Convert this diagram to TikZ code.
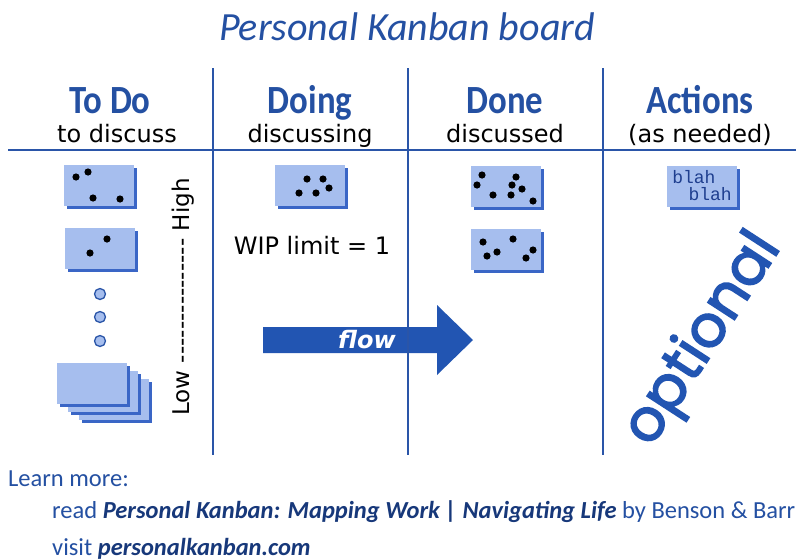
\documentclass[tikz,border=0pt]{standalone}
\usepackage{fontspec}
\setmainfont{DejaVu Sans}
\newfontfamily\headfont[FakeStretch=0.87]{Carlito}
\newfontfamily\titlefont{Carlito}
\newfontfamily\boxmono{Liberation Mono}
\newfontfamily\roundfont[FakeBold=2.6]{Poppins}
\newfontfamily\footfont{Carlito}
\usetikzlibrary{shadows}

\definecolor{kblue}{HTML}{2450A2}
\definecolor{lineblue}{HTML}{2A55A8}
\definecolor{cardfill}{HTML}{A6BEEE}
\definecolor{cardshade}{HTML}{3A66C6}
\definecolor{navy}{HTML}{17387A}
\definecolor{arrowblue}{HTML}{2255B2}
\definecolor{textnavy}{HTML}{1F3F8F}

\tikzset{
  card/.style={rectangle, fill=cardfill, minimum width=70pt, minimum height=41pt,
    inner sep=0pt, general shadow={fill=cardshade, shadow xshift=3pt, shadow yshift=-3pt}},
  ring/.style={circle, draw=lineblue, fill=cardfill, line width=1.3pt, minimum size=11pt, inner sep=0pt},
  colline/.style={draw=lineblue, line width=2pt},
  colhead/.style={anchor=base, text=kblue, font=\headfont\bfseries\fontsize{40}{44}\selectfont},
  colsub/.style={anchor=base, font=\fontsize{24}{28}\selectfont},
  footline/.style={anchor=base west, inner sep=0pt, text=kblue, font=\footfont\fontsize{24.5}{28}\selectfont},
}
\newcommand\carddot[1]{\fill[black] (#1) circle (3.6pt);}

\begin{document}
\begin{tikzpicture}[x=1pt, y=-1pt]
\useasboundingbox (0,0) rectangle (796,560);
\fill[white] (0,0) rectangle (796,560);

% title
\node[anchor=base, text=kblue, font=\titlefont\itshape\fontsize{40}{44}\selectfont] (title) at (407,40) {Personal Kanban board};

% column headings
\node[colhead] (h1) at (110,113) {To Do};
\node[colhead] (h2) at (310,113) {Doing};
\node[colhead] (h3) at (505,113) {Done};
\node[colhead] (h4) at (700,113) {Actions};
\node[colsub] (s1) at (117,142) {to discuss};
\node[colsub] (s2) at (310,142) {discussing};
\node[colsub] (s3) at (505,142) {discussed};
\node[colsub] (s4) at (700,142) {(as needed)};

% flow arrow (drawn before the column rules, which cross it)
\fill[arrowblue] (263,327) -- (437,327) -- (437,305) -- (473,340) -- (437,375) -- (437,353) -- (263,353) -- cycle;
\node[text=white, font=\bfseries\itshape\fontsize{24}{28}\selectfont] (flow) at (367,340) {flow};

% board rules
\coordinate (hl) at (8,150);
\coordinate (hr) at (796,150);
\draw[colline] (hl) -- (hr);
\foreach \cx [count=\i] in {213,408,603}{
  \coordinate (top\i) at (\cx,68);
  \coordinate (bot\i) at (\cx,455);
  \draw[colline] (top\i) -- (bot\i);
}

% To Do column
\node[card] (todo1) at (99,185) {};
\carddot{76,177} \carddot{88,172} \carddot{93,198} \carddot{120,199}
\node[card] (todo2) at (99.5,248) {};
\carddot{90,253} \carddot{107,239}
\node[ring] (r1) at (100,294) {};
\node[ring] (r2) at (100,317) {};
\node[ring] (r3) at (100,341) {};
\node[card] (stack3) at (114,399) {};
\node[card] (stack2) at (103,391) {};
\node[card] (stack1) at (92,383) {};
\node[rotate=90, font=\fontsize{23}{26}\selectfont] (prio) at (183,297)
  {Low {-}{-}{-}{-}{-}{-}{-}{-}{-}{-}{-}{-}{-}{-}{-} High};

% Doing column
\node[card] (doing1) at (310,185) {};
\carddot{307,179} \carddot{323,179} \carddot{299,193} \carddot{316,193} \carddot{329,188}
\node[font=\fontsize{24}{28}\selectfont] (wip) at (312,245) {WIP limit = 1};

% Done column
\node[card] (done1) at (506,186) {};
\carddot{482,175} \carddot{477,185} \carddot{493,195} \carddot{516,177}
\carddot{512,185} \carddot{522,189} \carddot{511,195} \carddot{533,201}
\node[card] (done2) at (506,249) {};
\carddot{483,242} \carddot{513,239} \carddot{497,252} \carddot{487,256}
\carddot{533,250} \carddot{526,258}

% Actions column
\node[card] (act1) at (702,186) {};
\node[text=textnavy, font=\boxmono\fontsize{18}{17}\selectfont, align=left] (blah) at (702,186)
  {blah\\\hspace*{0.9em}blah};
\node[rotate=57, text=arrowblue, font=\roundfont\fontsize{58}{64}\selectfont] (opt) at (704,340) {optional};

% further reading
\node[footline] (more) at (8,486) {Learn more:};
\node[footline] (read) at (52,518) {read \textbf{\itshape\color{navy}Personal Kanban: Mapping Work | Navigating Life} by Benson \& Barr};
\node[footline] (visit) at (52,555) {visit \textbf{\itshape\color{navy}personalkanban.com}};
\end{tikzpicture}
\end{document}
